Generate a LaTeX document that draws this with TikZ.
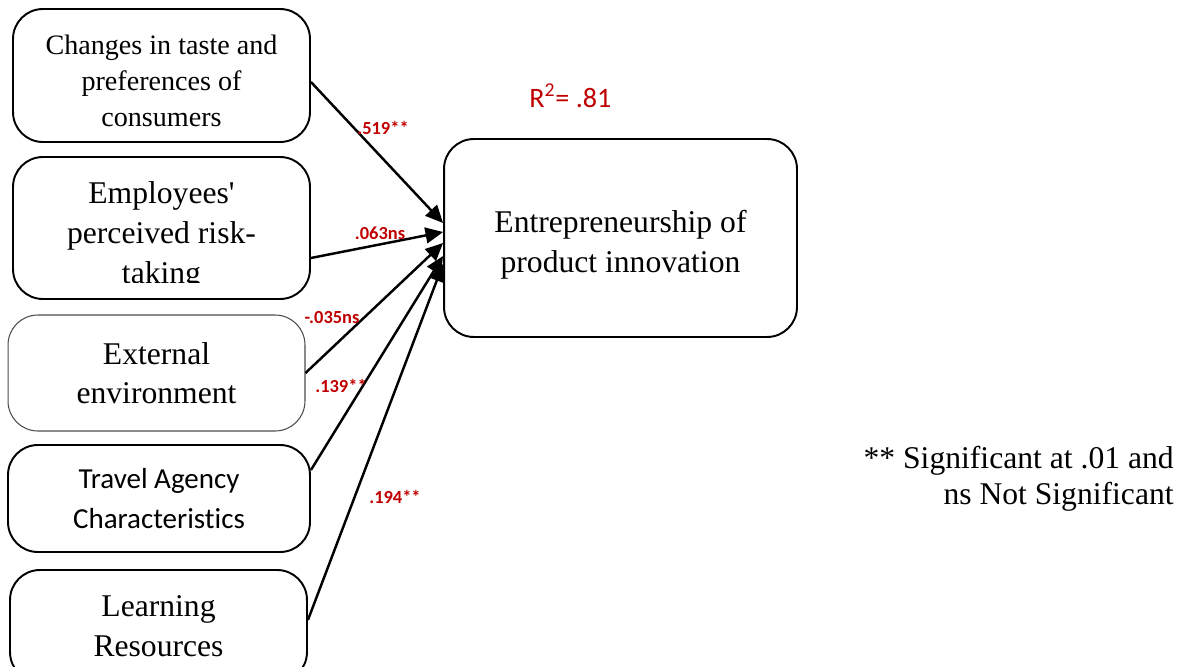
\documentclass[tikz,border=0pt]{standalone}
\usepackage{fontspec}
\setmainfont{Liberation Serif}[Ligatures=TeXOff]
\newfontfamily\calib[Ligatures={NoCommon}]{Carlito}
\usetikzlibrary{arrows.meta}
\definecolor{darkred}{HTML}{C00000}
\tikzset{
  box/.style={draw, line width=1.1pt, rounded corners=17pt, align=center, inner sep=0pt},
  thinbox/.style={box, draw=black!70, line width=0.6pt},
  boxtext/.style={align=center, inner sep=0pt},
  path/.style={line width=1.4pt, -{Triangle[length=10pt,width=9pt]}},
  coef/.style={text=darkred, font=\calib\bfseries\fontsize{10.5}{12}\selectfont, inner sep=0pt},
}
\begin{document}
\begin{tikzpicture}[x=0.02cm, y=-0.02cm]
\useasboundingbox (0,0) rectangle (1183,666);
% predictor boxes
\node[box, minimum width=5.94cm, minimum height=2.66cm] (b1) at (161.5,75.5) {};
\node[boxtext, font=\fontsize{16}{20.5}\selectfont] (b1t) at (161.5,81)
  {Changes in taste and\\preferences of\\consumers};
\node[box, minimum width=5.94cm, minimum height=2.84cm] (b2) at (161.5,228) {};
\begin{scope}
  \clip (13,150) rectangle (310,282);
  \node[boxtext, font=\fontsize{18}{22.8}\selectfont] (b2t) at (161.5,236)
    {Employees'\\perceived risk-\\taking};
\end{scope}
\node[thinbox, minimum width=5.94cm, minimum height=2.32cm, font=\fontsize{18}{22.5}\selectfont] (b3) at (156.5,373)
  {External\\environment};
\node[box, minimum width=6.04cm, minimum height=2.14cm, font=\calib\fontsize{16.5}{22.8}\selectfont] (b4) at (159,498.5)
  {Travel Agency\\Characteristics};
\node[box, minimum width=5.94cm, minimum height=2.24cm, font=\fontsize{18}{22.5}\selectfont] (b5) at (158.5,626)
  {Learning\\Resources};
% outcome
\node[box, minimum width=7.06cm, minimum height=3.96cm] (t) at (620.5,238) {};
\node[boxtext, font=\fontsize{18}{22.8}\selectfont] (tt) at (620.5,245)
  {Entrepreneurship of\\product innovation};
% R squared
\node[text=darkred, font=\calib\fontsize{16}{19}\selectfont, anchor=west, inner sep=0pt] (r2) at (529,96) {R\textsuperscript{2}= .81};
% paths
\draw[path] ([yshift=-0.13cm]b1.east) -- ([yshift=0.3cm]t.west);
\draw[path] ([yshift=-0.6cm]b2.east) -- ([yshift=0.12cm]t.west);
\draw[path] (b3.east) -- ([yshift=-0.1cm]t.west);
\draw[path] ([yshift=0.57cm]b4.east) -- ([yshift=-0.36cm]t.west);
\draw[path] ([yshift=0.12cm]b5.east) -- ([yshift=-0.52cm]t.west);
% coefficients
\node[coef] (c1) at (383,128) {.519**};
\node[coef] (c2) at (380,233) {.063ns};
\node[coef] (c3) at (332,318) {-.035ns};
\node[coef] (c4) at (341,386) {.139**};
\node[coef] (c5) at (395,497) {.194**};
% legend
\node[anchor=north east, align=right, font=\fontsize{18}{20.2}\selectfont, inner sep=0pt] (leg) at (1174,446)
  {** Significant at .01 and\\ns Not Significant};
\end{tikzpicture}
\end{document}
